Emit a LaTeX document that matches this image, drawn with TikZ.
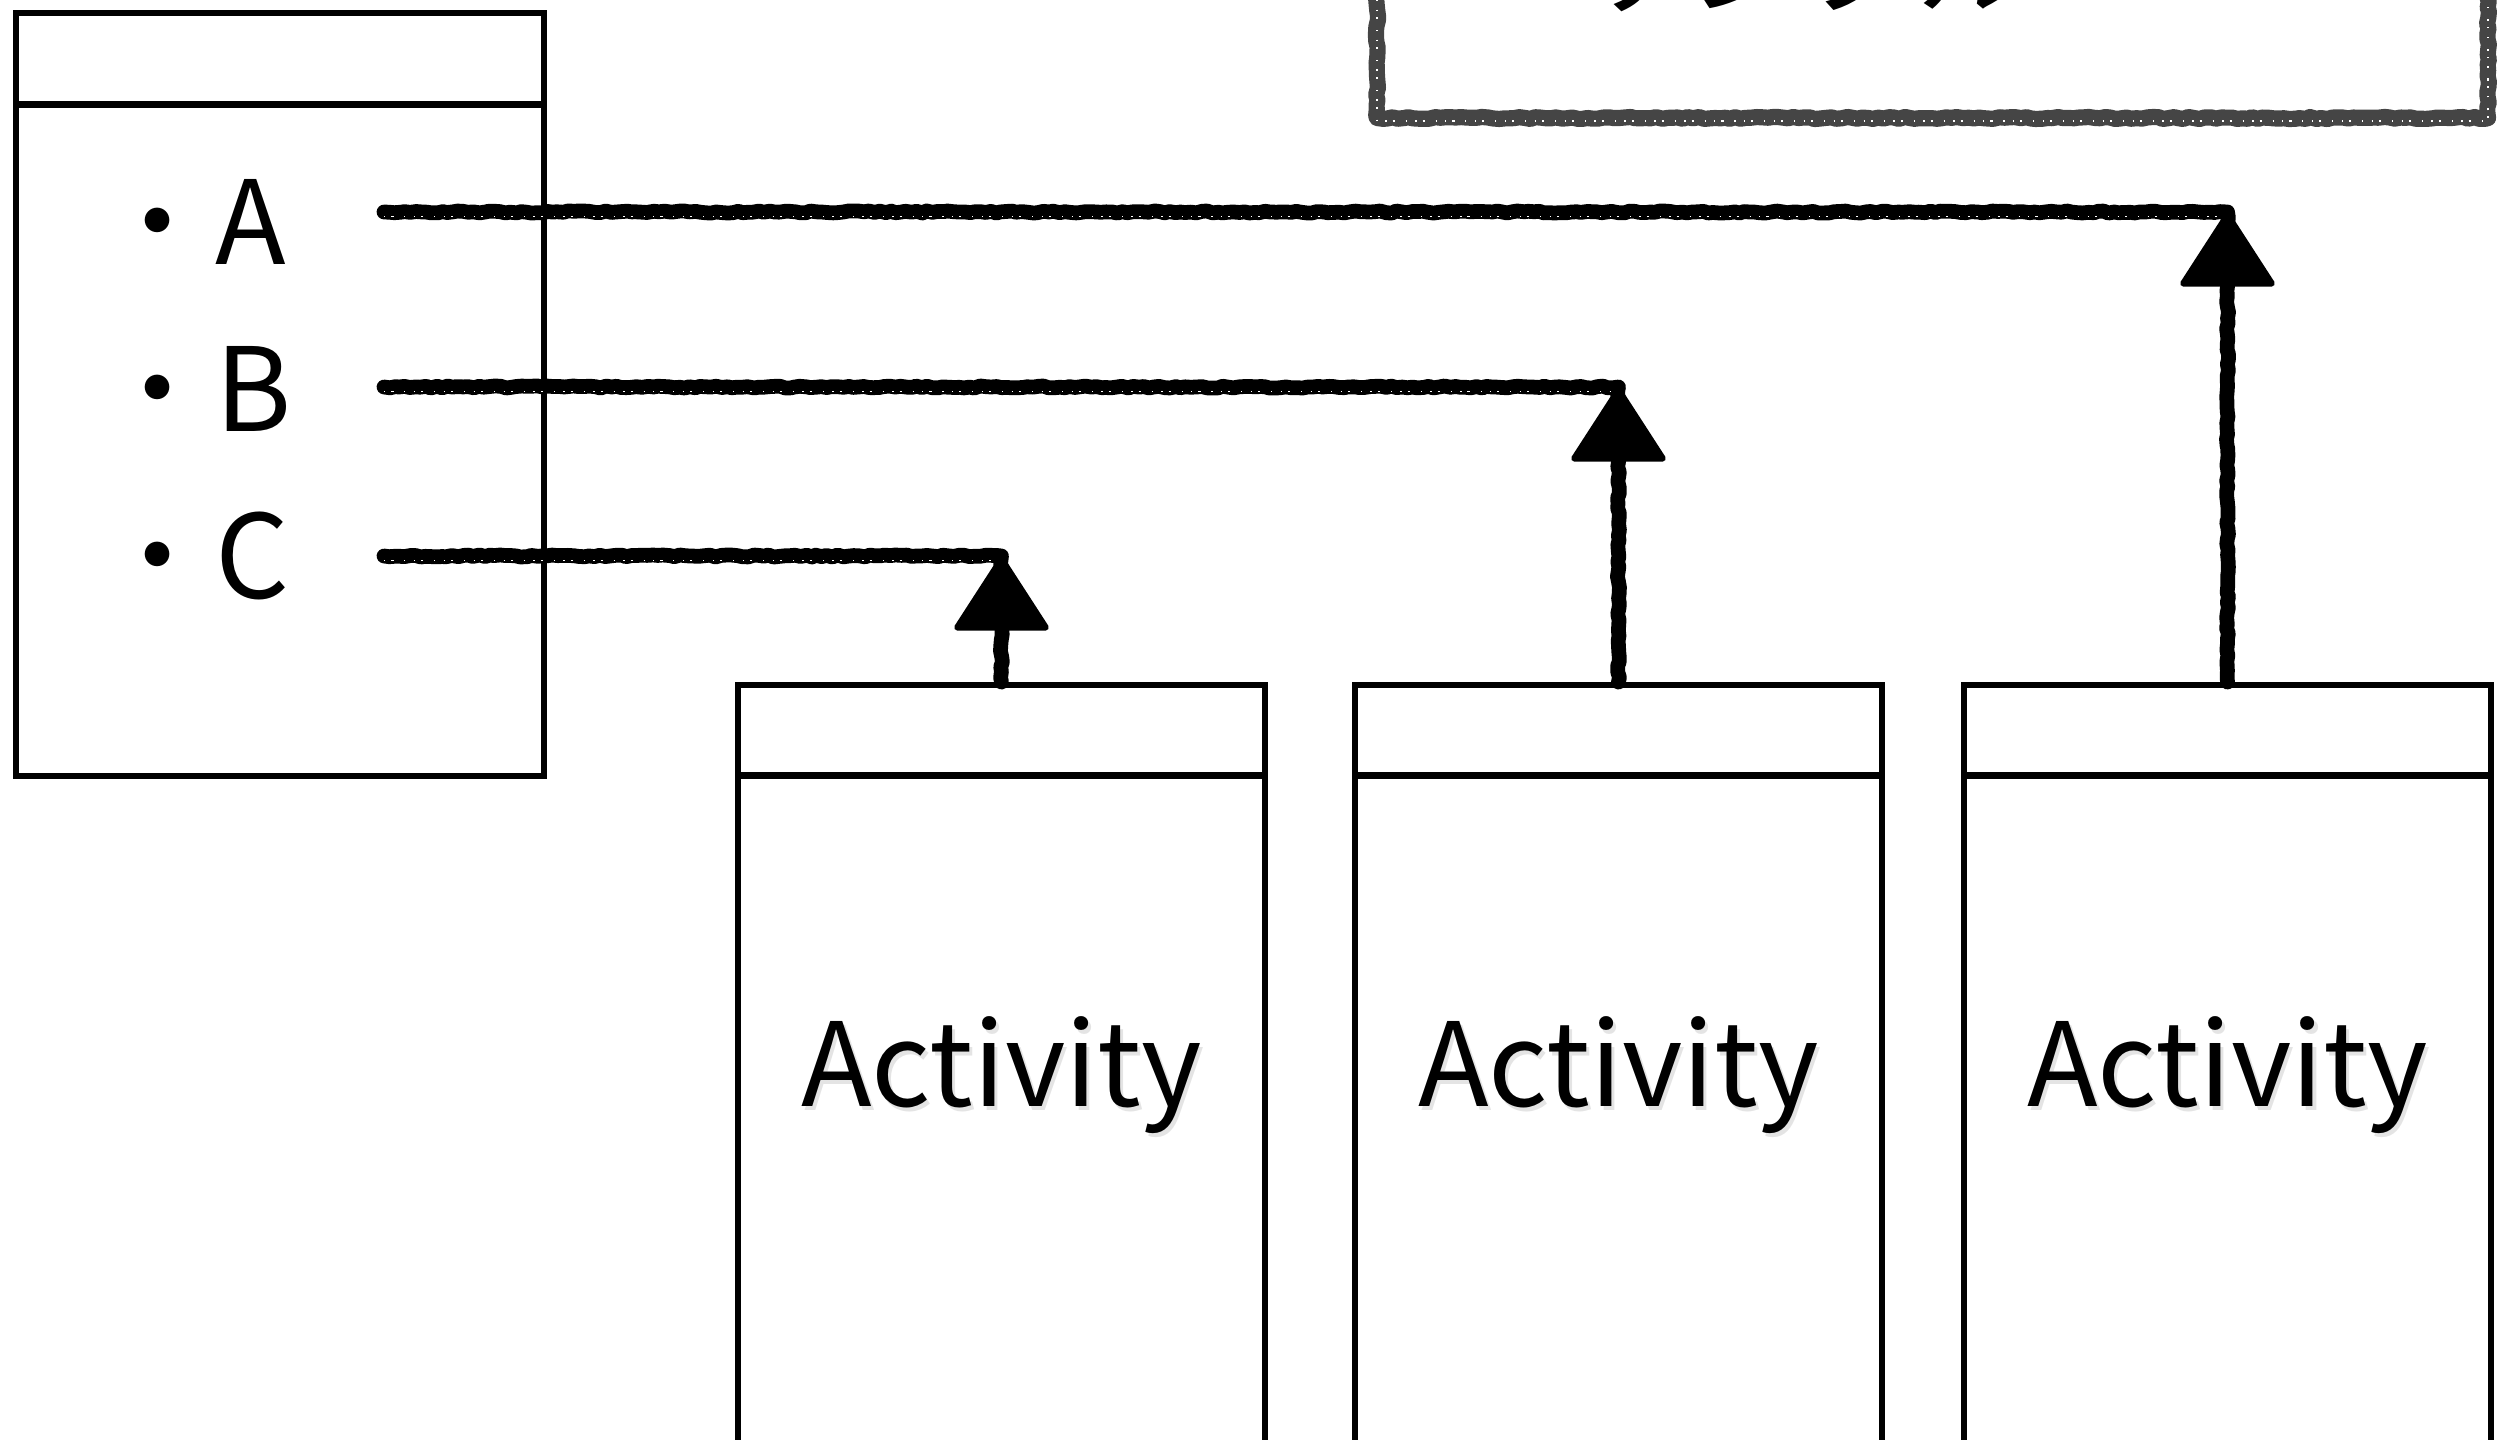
\documentclass[tikz,border=0pt]{standalone}
\usepackage{fontspec}
\setmainfont{Noto Sans CJK JP}
\usetikzlibrary{arrows.meta,decorations.pathmorphing,positioning}

\tikzset{
	chalk/.style={line width=4.2pt, line join=round, line cap=round, decorate,
		decoration={random steps, segment length=1.5pt, amplitude=0.3pt}},
	speck/.style={white, line width=0.5pt, dash pattern=on 0.4pt off 1.7pt on 0.6pt off 3.1pt on 0.3pt off 2.4pt},
	chalktip/.style={-{Triangle[width=28pt,length=22pt,line join=round]}, line width=1.8pt, line join=round},
	panel/.style={draw, line width=1.6pt, inner sep=0pt, anchor=north west},
	big/.style={font=\fontsize{33}{40}\selectfont, inner sep=0pt},
}

\begin{document}
\begin{tikzpicture}[x=0.01cm, y=-0.01cm]
			%%%%% START %%%%%
			\useasboundingbox (0,0) rectangle (2506,1439);
			\clip (0,0) rectangle (2506,1439);
			
			% settings box, only its lower edge shows
			\draw[chalk, line width=4.6pt, color=black!73] (1377,-80) rectangle (2488,118);
			\draw[speck] (1377,-80) -- (1377,121) -- (2488,121) -- (2488,-80);
			\node[big, anchor=base west] (note) at (1455,6) {・サンプル};
			
			% list box with header
			\node[panel, minimum width=5.28cm, minimum height=7.63cm] (list) at (13,10) {};
			\draw[line width=2pt] ([yshift=-0.94cm]list.north west) -- ([yshift=-0.94cm]list.north east);
			
			% activities
			\foreach \i/\x in {1/735, 2/1352, 3/1961} {
				\node[panel, minimum width=5.27cm, minimum height=10cm] (act\i) at (\x,682) {};
				\draw[line width=2pt] ([yshift=-0.93cm]act\i.north west) -- ([yshift=-0.93cm]act\i.north east);
				\node[big, anchor=base, text=black!30, opacity=0.35] (shadow\i) at ([xshift=0.9pt, yshift=-4.24cm-1.2pt]act\i.north) {Activity};
				\node[big, anchor=base] (label\i) at ([yshift=-4.24cm]act\i.north) {Activity};
			}
			
			% items and their links
			\foreach \lbl/\b/\l/\k in {A/264/212/3, B/431/387/2, C/598/556/1} {
				\node[big, anchor=base west] (item\lbl) at (99,\b) {・\lbl};
				\coordinate (from\lbl) at (384,\l);
				\coordinate (turn\lbl) at (act\k.north |- from\lbl);
				\draw[chalk] (from\lbl) -- (turn\lbl) -- (act\k.north);
				\draw[speck] ([yshift=-1.3pt]from\lbl) -- ([yshift=-1.3pt]turn\lbl);
				\draw[chalktip] ([yshift=-0.3cm]turn\lbl) -- (turn\lbl);
			}
			%%%%% END %%%%%
\end{tikzpicture}
\end{document}
